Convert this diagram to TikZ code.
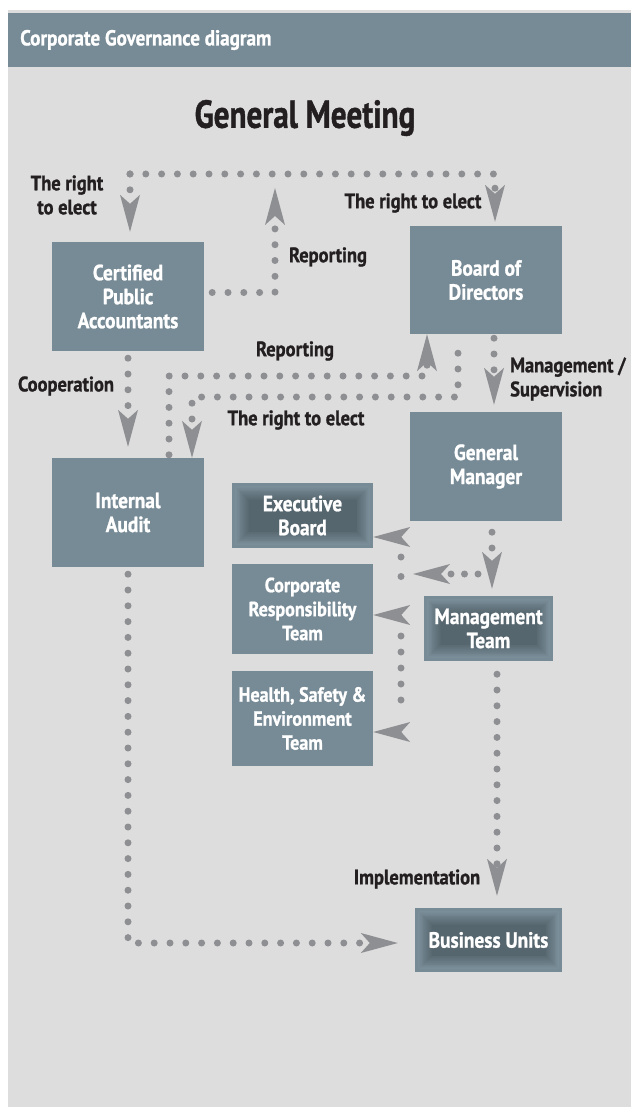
\documentclass[tikz,border=0pt]{standalone}
\usepackage{fontspec}
\setmainfont{PT Sans}[FakeStretch=0.88, BoldFeatures={FakeBold=1}]
\newfontfamily\ttlfont{PT Sans}[FakeStretch=0.8, BoldFeatures={FakeBold=1}]
\usetikzlibrary{arrows.meta,calc}
\definecolor{boxc}{HTML}{778B96}
\definecolor{boxl}{HTML}{7A8E99}
\definecolor{darkc}{HTML}{55656E}
\definecolor{bgc}{HTML}{DDDDDD}
\definecolor{dotc}{HTML}{8E8F93}
\definecolor{txtc}{HTML}{231F20}
\newcommand\bxfont{\bfseries\fontsize{22}{24}\selectfont}
\newcommand\smbxfont{\bfseries\fontsize{20.5}{24}\selectfont}
\newcommand\lbfont{\bfseries\fontsize{21}{24}\selectfont}
\begin{document}
\begin{tikzpicture}[x=1pt,y=-1pt,
  box/.style={rectangle, fill=boxc, text=white, font=\bxfont, align=center, inner sep=0pt},
  lbl/.style={text=txtc, font=\lbfont, align=center, inner sep=0pt},
  dl/.style={draw=dotc, line width=7pt, line cap=round, dash pattern=on 0pt off 15.8pt},
  tip/.style={-{Stealth[length=37pt,width=20pt,inset=9pt,line width=0pt]}},
  tiponly/.style={draw=dotc, line width=0.1pt, -{Stealth[length=37pt,width=20pt,inset=9pt,line width=0pt]}},
  glow/.style={path picture={
    \foreach \k in {0,...,15}{
      \pgfmathsetmacro\ins{3+\k*0.9}
      \pgfmathtruncatemacro\pc{\k*6.5}
      \fill[darkc!\pc!boxl] ([xshift=\ins pt,yshift=-\ins pt]path picture bounding box.north west) rectangle ([xshift=-\ins pt,yshift=\ins pt]path picture bounding box.south east);
    }
  }}
]
\useasboundingbox (0,0) rectangle (631,1107);
\fill[white] (0,0) rectangle (631,1107);
\fill[bgc] (8,10) rectangle (631,1107);
\fill[boxc] (8,13) rectangle (631,67);
\node[anchor=west, text=white, font=\bfseries\fontsize{21.7}{24}\selectfont, inner sep=0pt] (hdr) at (20,40) {Corporate Governance diagram};
\node[text=txtc, font=\ttlfont\bfseries\fontsize{39}{44}\selectfont, inner sep=0pt] (gmeet) at (305,118) {General Meeting};

% boxes
\node[box, minimum width=152pt, minimum height=109pt] (cpa) at (128,296.5) {Certified\\Public\\Accountants};
\node[box, minimum width=152pt, minimum height=108pt] (bod) at (486,280) {Board of\\Directors};
\node[box, minimum width=152pt, minimum height=109pt] (ia) at (128,512.5) {Internal\\Audit};
\node[box, minimum width=152pt, minimum height=109pt] (gm) at (486,466.5) {General\\Manager};
\node[box, glow, minimum width=141pt, minimum height=65pt] (eb) at (302.5,515.5) {Executive\\Board};
\node[box, font=\smbxfont, minimum width=141pt, minimum height=90pt] (cr) at (302.5,609) {Corporate\\Responsibility\\Team};
\node[box, font=\smbxfont, minimum width=141pt, minimum height=95pt] (hse) at (302.5,718.5) {Health, Safety \&\\Environment\\Team};
\node[box, glow, minimum width=129pt, minimum height=65pt] (mt) at (488.5,628.5) {Management\\Team};
\node[box, glow, minimum width=147pt, minimum height=64pt] (bu) at (488.5,940) {Business Units};

% labels
\node[lbl] (l1) at (67,195) {The right\\to elect};
\node[lbl] (l2) at (328,257) {Reporting};
\node[lbl] (l3) at (413,203) {The right to elect};
\node[lbl] (l4) at (295,351) {Reporting};
\node[lbl] (l5) at (296,420) {The right to elect};
\node[lbl] (l6) at (66,386) {Cooperation};
\node[lbl, anchor=west, align=left] (l7) at (510,379) {Management /\\Supervision};
\node[lbl] (l8) at (417,879) {Implementation};

% coordinates
\coordinate (tl) at (130,174);
\coordinate (tr) at (495,174);
\coordinate (rpt) at (275,174);
\coordinate (rA) at (427,376);
\coordinate (eB) at (192,397);
\coordinate (brs) at (478,574);
\coordinate (bre) at (413,574);
\coordinate (v1) at (401,557);
\coordinate (v2) at (401,596);
\coordinate (v3) at (401,636);
\coordinate (v4) at (401,716);
\coordinate (ae) at (401,537);
\coordinate (ac) at (401,615);
\coordinate (ah) at (401,732);

% connectors
\draw[dl,tip,shorten >=4pt] (tl) -- (tr) -- (tr |- bod.north);
\draw[dl,tip,shorten >=10pt] (tl) -- (tl |- cpa.north);
\draw[dl,tip,shorten >=14pt] ([xshift=8pt,yshift=4pt]cpa.east) -| (rpt);
\draw[dl,tip] ([xshift=41pt,yshift=3pt]ia.north) |- (rA) -- (rA |- bod.south);
\draw[dl,tip] ([xshift=-28pt,yshift=-19pt]bod.south) |- (eB) -- (eB |- ia.north);
\draw[dl,tip,shorten <=7pt,shorten >=11pt] (cpa.south) -- (ia.north);
\draw[dl,tip,shorten <=4pt,shorten >=7pt] ([xshift=8pt]bod.south) -- ([xshift=8pt]gm.north);
\draw[dl,tip,shorten <=11pt,shorten >=7pt] ([xshift=6pt]gm.south) -- ([xshift=3.5pt]mt.north);
\draw[dl,tip,dash pattern=on 0pt off 13.5pt] (brs) -- (bre);
\draw[dl,dash pattern=on 0pt off 19.5pt] (v1) -- (v2);
\draw[dl,dash pattern=on 0pt off 16pt] (v3) -- (v4);
\draw[tiponly] (ae) -- (ae -| eb.east);
\draw[tiponly] (ac) -- (ac -| cr.east);
\draw[tiponly] (ah) -- (ah -| hse.east);
\draw[dl,tip,shorten <=13pt,shorten >=12pt] ([xshift=8.5pt]mt.south) -- ([xshift=8.5pt]bu.north);
\draw[dl,tip,shorten <=7pt,shorten >=17pt] (ia.south) |- ([yshift=-3pt]bu.west);
\end{tikzpicture}
\end{document}
